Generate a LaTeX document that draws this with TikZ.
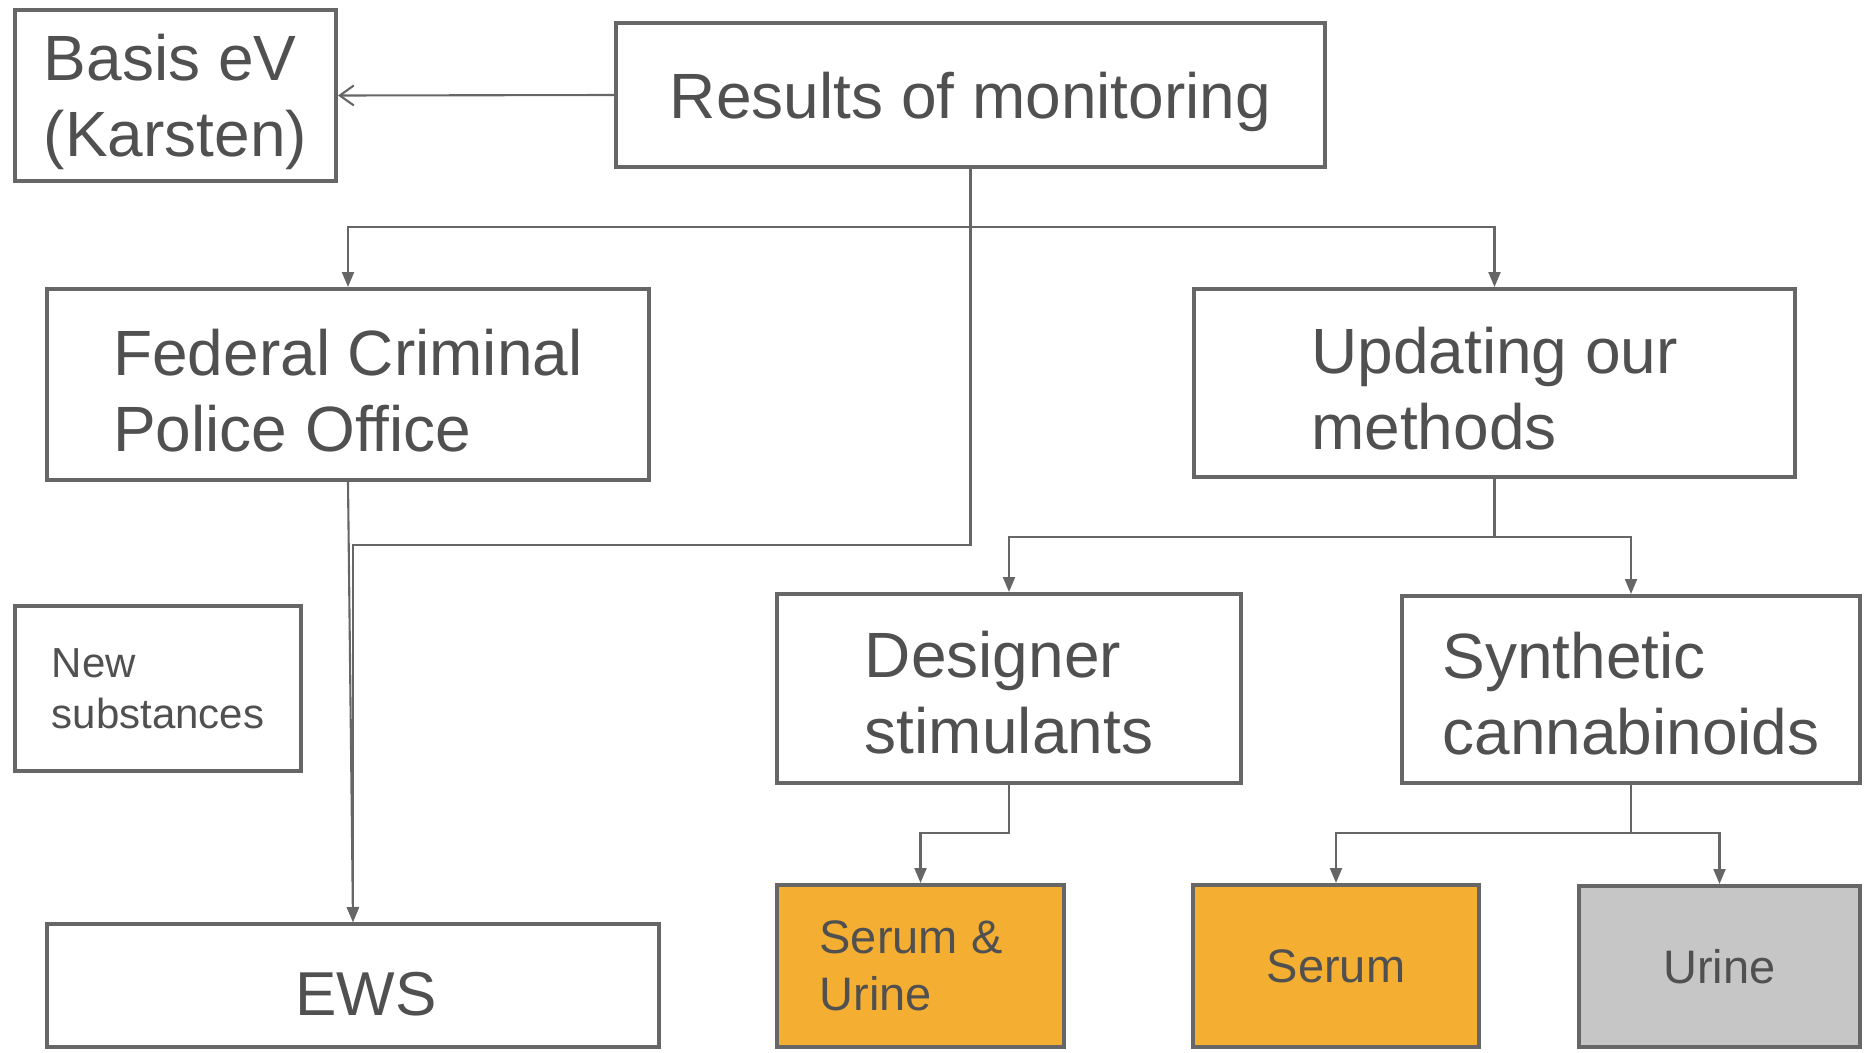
\documentclass[tikz,border=0pt]{standalone}
\usepackage{fontspec}
\setmainfont{Liberation Sans}
\usepackage{tikz}
\usetikzlibrary{arrows.meta, positioning, calc}
\definecolor{khung}{HTML}{666666}
\definecolor{chu}{HTML}{505050}
\definecolor{cam}{HTML}{F4AF33}
\definecolor{xam}{HTML}{C6C6C6}
\newcommand{\chen}[1][58pt]{\rule{0pt}{#1}}

\begin{document}
\begin{tikzpicture}[x=1pt,y=-1pt,
            hop/.style={draw=khung, line width=4pt, text=chu, align=left, inner sep=0pt},
            to/.style={font=\fontsize{64}{76}\selectfont},
            nho/.style={font=\fontsize{42}{51}\selectfont},
            vua/.style={font=\fontsize{47}{57}\selectfont},
            noi/.style={draw=khung, line width=2.1pt},
            mui/.style={noi, -{Triangle[length=15pt,width=12pt]}}]

            % Khung hình
            \useasboundingbox (0,0) rectangle (1865,1052);

            % Các ô hàng trên
            \node[hop, to, minimum width=321, minimum height=171] (basis) at (175.5,95.5) {\chen[60pt]Basis eV\\(Karsten)};
            \node[hop, to, minimum width=709, minimum height=144] (res) at (970.5,95) {\chen[60pt]Results of monitoring};
            \node[hop, to, minimum width=602, minimum height=191] (fcpo) at (348,384.5) {\chen Federal Criminal\\Police Office};
            \node[hop, to, minimum width=601, minimum height=188] (upd) at (1494.5,383) {\chen Updating our\\methods};

            % Các ô hàng giữa
            \node[hop, nho, minimum width=286, minimum height=165] (new) at (158,688.5) {New\\substances};
            \node[hop, to, minimum width=464, minimum height=189] (des) at (1009,688.5) {\chen[54pt]Designer\\stimulants};
            \node[hop, to, minimum width=458, minimum height=187] (syn) at (1631,689.5) {\chen[54pt]Synthetic\\cannabinoids};

            % Các ô hàng dưới
            \node[hop, font=\fontsize{62}{74}\selectfont, minimum width=612, minimum height=123] (ews) at (353,985.5) {\chen[60pt]\hspace*{26pt}EWS};
            \node[hop, vua, fill=cam, minimum width=287, minimum height=162] (su) at (920.5,966) {Serum \&\hspace*{19pt}\\Urine};
            \node[hop, vua, fill=cam, minimum width=286, minimum height=162] (ser) at (1336,966) {Serum};
            \node[hop, vua, fill=xam, minimum width=281, minimum height=161] (uri) at (1719.5,966.5) {Urine};

            % Các đường nối
            \draw[noi, -{Straight Barb[length=14pt,width=20pt]}] (res.west) -- (basis.east);
            \draw[mui] (res.south) -- ++(0,58) -| (fcpo.north);
            \draw[mui] (res.south) -- ++(0,58) -| (upd.north);
            \draw[mui] (res.south) -- ++(0,376) -| (ews.north);
            \draw[mui] (fcpo.south) -- (ews.north);
            \draw[mui] (upd.south) -- ++(0,58) -| (des.north);
            \draw[mui] (upd.south) -- ++(0,58) -| (syn.north);
            \draw[mui] (des.south) -- ++(0,48) -| (su.north);
            \draw[mui] (syn.south) -- ++(0,48) -| (ser.north);
            \draw[mui] (syn.south) -- ++(0,48) -| (uri.north);

            \end{tikzpicture}
\end{document}
